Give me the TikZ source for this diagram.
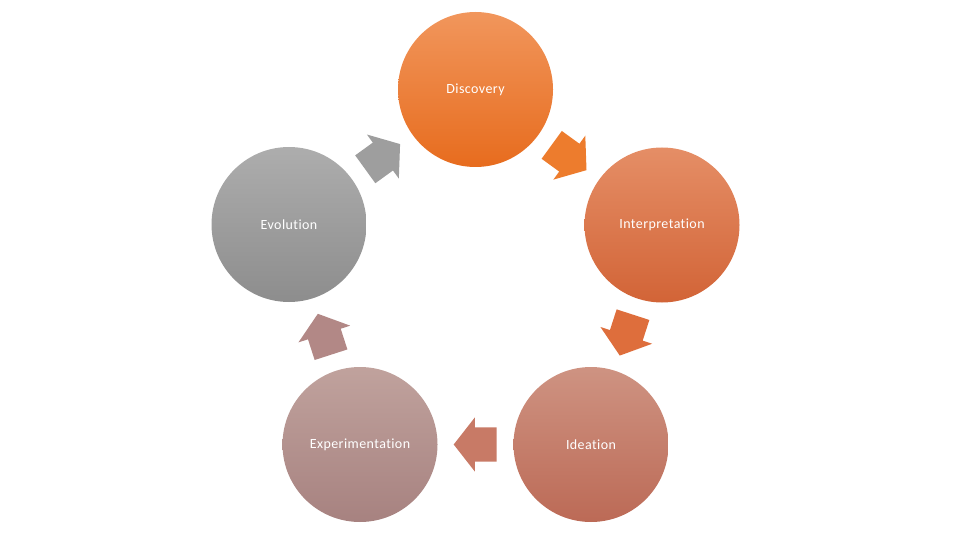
\documentclass[tikz,border=0pt]{standalone}
\usepackage{fontspec}
\setmainfont{Carlito}[Ligatures=NoCommon, LetterSpace=3]
\usetikzlibrary{shapes.arrows}
\definecolor{discTop}{RGB}{241,150,92}
\definecolor{discBot}{RGB}{231,108,30}
\definecolor{intTop}{RGB}{229,142,102}
\definecolor{intBot}{RGB}{210,100,55}
\definecolor{ideaTop}{RGB}{206,147,130}
\definecolor{ideaBot}{RGB}{188,106,86}
\definecolor{expTop}{RGB}{192,162,157}
\definecolor{expBot}{RGB}{167,130,128}
\definecolor{evolTop}{RGB}{173,173,173}
\definecolor{evolBot}{RGB}{141,141,141}

\begin{document}
\begin{tikzpicture}[x=1pt, y=-1pt,
        stage/.style={circle, minimum size=155pt, inner sep=0pt, text=white, font=\fontsize{14}{16}\selectfont},
        cyclearrow/.style={single arrow, draw=none, minimum height=43pt, inner xsep=0pt, inner ysep=17pt,
          single arrow head extend=10pt, single arrow tip angle=104, sloped, allow upside down,
          anchor=tail, pos=0.217}]
        \useasboundingbox (0,0) rectangle (960,540);
        % stages of the cycle
        \node[stage, top color=discTop, bottom color=discBot] (disc) at (475.5,89.5) {Discovery};
        \node[stage, top color=intTop, bottom color=intBot] (interp) at (662,225) {Interpretation};
        \node[stage, top color=ideaTop, bottom color=ideaBot] (idea) at (591,444.5) {Ideation};
        \node[stage, top color=expTop, bottom color=expBot] (exper) at (360,444.5) {Experimentation};
        \node[stage, top color=evolTop, bottom color=evolBot] (evol) at (289,224.5) {Evolution};
        % block arrows between stages
        \path (disc) -- node[cyclearrow, fill={rgb,255:red,237;green,124;blue,45}] (discint) {} (interp);
        \path (interp) -- node[cyclearrow, fill={rgb,255:red,222;green,110;blue,60}] (intidea) {} (idea);
        \path (idea) -- node[cyclearrow, fill={rgb,255:red,200;green,122;blue,102}] (ideaexp) {} (exper);
        \path (exper) -- node[cyclearrow, fill={rgb,255:red,178;green,136;blue,134}] (expevol) {} (evol);
        \path (evol) -- node[cyclearrow, fill={rgb,255:red,158;green,158;blue,158}] (evoldisc) {} (disc);
      \end{tikzpicture}
\end{document}
